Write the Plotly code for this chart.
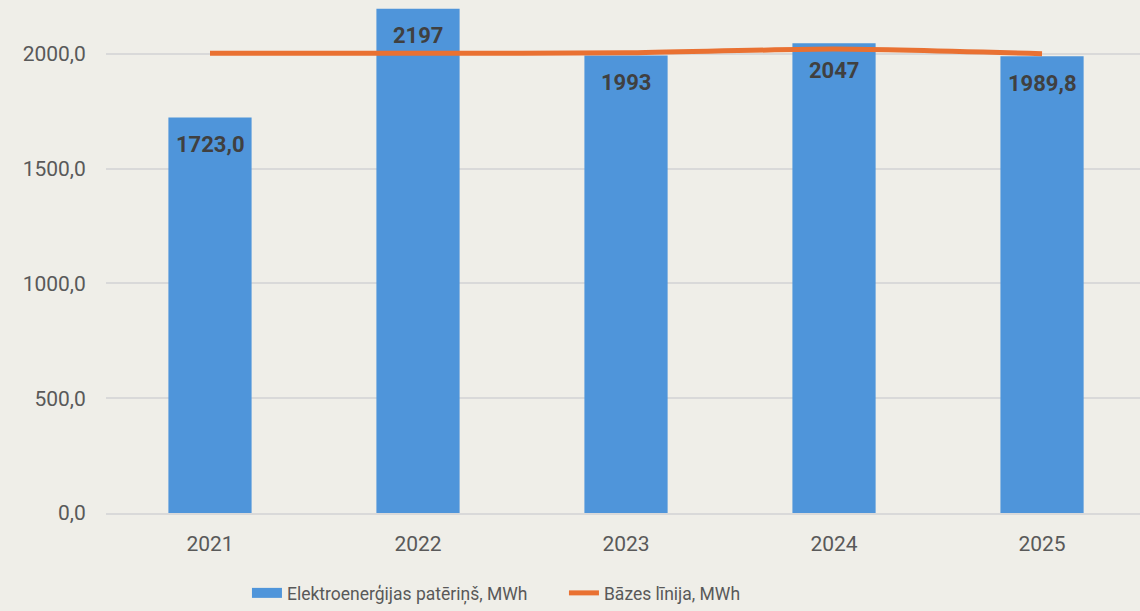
import plotly.graph_objects as go

years = ["2021", "2022", "2023", "2024", "2025"]
consumption = [1723.0, 2197, 1993, 2047, 1989.8]
consumption_labels = ["1723,0", "2197", "1993", "2047", "1989,8"]
baseline = [2003, 2003, 2005, 2021, 2001]
y_tickvals = [0, 500, 1000, 1500, 2000]
y_ticktext = ["0,0", "500,0", "1000,0", "1500,0", "2000,0"]

BG = "#EFEEE8"
BLUE = "#4F95DA"
ORANGE = "#E97132"
TXT = "#595959"
FONT = "Roboto, Liberation Sans"

fig = go.Figure()
fig.add_trace(go.Bar(
    x=years, y=consumption, name="Elektroenerģijas patēriņš, MWh",
    marker=dict(color=BLUE, line=dict(width=0)), width=0.4, showlegend=False,
))
# legend entry for bars (wide rectangle swatch)
fig.add_trace(go.Scatter(
    x=[None], y=[None], name="Elektroenerģijas patēriņš, MWh", mode="lines",
    line=dict(color=BLUE, width=13),
))
fig.add_trace(go.Scatter(
    x=years, y=baseline, name="Bāzes līnija, MWh", mode="lines",
    line=dict(color=ORANGE, width=5, shape="spline", smoothing=0.6),
))
for i, (v, lab) in enumerate(zip(consumption, consumption_labels)):
    fig.add_annotation(x=i, y=v, text="<b>" + lab + "</b>", showarrow=False,
                       yanchor="middle", yshift=-27,
                       font=dict(family=FONT, size=22, color="#404040"))

fig.update_layout(
    width=1140, height=611,
    paper_bgcolor=BG, plot_bgcolor=BG,
    margin=dict(l=106, r=0, t=0, b=98),
    showlegend=True,
    legend=dict(orientation="h", xref="container", yref="container",
                x=0.4947, xanchor="center", y=-0.019, yanchor="bottom",
                font=dict(family=FONT, size=17.5, color=TXT),
                entrywidth=272, entrywidthmode="pixels",
                bgcolor="rgba(0,0,0,0)"),
    font=dict(family=FONT, color=TXT),
)
fig.update_xaxes(
    type="category", range=[-0.5, 4.471],
    showgrid=False, showline=True, linecolor="#D9D9D9", linewidth=2,
    ticks="outside", ticklen=11, tickcolor=BG,
    tickfont=dict(family=FONT, size=21, color=TXT),
    zeroline=False,
)
fig.update_yaxes(
    range=[0, 2235], tickvals=y_tickvals, ticktext=y_ticktext,
    showgrid=True, gridcolor="#D9D9D9", gridwidth=1.5,
    zeroline=False, showline=False,
    ticks="outside", ticklen=15, tickcolor=BG,
    tickfont=dict(family=FONT, size=21, color=TXT),
)
fig.write_html("out.html", config={"displayModeBar": False},
               post_script="document.body.style.margin='0';document.body.style.overflow='hidden';")
